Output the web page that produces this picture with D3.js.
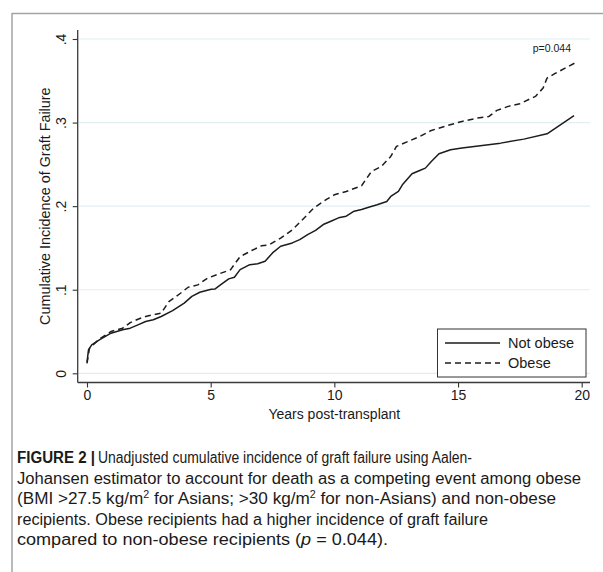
<!DOCTYPE html>
<html>
<head>
<meta charset="utf-8">
<script src="https://cdn.jsdelivr.net/npm/d3@7"></script>
<style>
  html, body { margin: 0; padding: 0; background: #fff; }
  svg { display: block; }
  text { font-family: "Liberation Sans", Arial, Helvetica, sans-serif; fill: #1a1a1a; }
</style>
</head>
<body>
<svg id="chart" width="603" height="572"></svg>
<script>
// Cumulative incidence of graft failure (Aalen-Johansen), by obesity status
const notObeseYears = [0, 0.06, 0.19, 0.5, 0.97, 1.44, 1.75, 2.06, 2.37, 2.68, 3.0, 3.46, 3.93, 4.24, 4.56, 5.02, 5.18, 5.41, 5.73, 5.96, 6.19, 6.58, 6.9, 7.2, 7.5, 7.83, 8.3, 8.6, 8.92, 9.24, 9.55, 9.86, 10.17, 10.48, 10.8, 11.1, 11.42, 11.73, 12.12, 12.28, 12.59, 12.75, 13.14, 13.45, 13.68, 13.92, 14.23, 14.7, 15.16, 16.72, 17.66, 18.6, 19.69];
const notObeseCI    = [0.013, 0.028, 0.034, 0.040, 0.048, 0.052, 0.054, 0.058, 0.062, 0.064, 0.068, 0.075, 0.084, 0.092, 0.097, 0.1006, 0.101, 0.106, 0.113, 0.115, 0.124, 0.130, 0.131, 0.134, 0.144, 0.152, 0.156, 0.160, 0.166, 0.171, 0.178, 0.182, 0.186, 0.188, 0.194, 0.196, 0.199, 0.2016, 0.2056, 0.2116, 0.2176, 0.2255, 0.2387, 0.2427, 0.2455, 0.2535, 0.2627, 0.2675, 0.2695, 0.2754, 0.2802, 0.2866, 0.3082];

const obeseYears = [0, 0.1, 0.5, 0.97, 1.44, 1.75, 2.06, 2.37, 3.0, 3.31, 3.78, 4.09, 4.48, 4.87, 5.34, 5.8, 6.19, 6.66, 7.05, 7.36, 7.83, 8.3, 8.77, 9.16, 9.7, 10.0, 10.48, 11.1, 11.5, 11.9, 12.28, 12.51, 12.98, 13.45, 13.92, 14.54, 15.16, 15.79, 16.25, 16.57, 17.03, 17.5, 18.13, 18.44, 18.6, 18.91, 19.77];
const obeseCI    = [0.012, 0.030, 0.041, 0.050, 0.054, 0.0607, 0.0647, 0.068, 0.072, 0.0858, 0.0958, 0.103, 0.1058, 0.1138, 0.119, 0.1238, 0.1397, 0.1469, 0.1525, 0.1537, 0.1617, 0.1717, 0.1856, 0.1976, 0.2084, 0.2136, 0.2176, 0.2244, 0.2415, 0.2475, 0.2595, 0.2715, 0.2774, 0.2834, 0.2906, 0.2962, 0.3014, 0.3054, 0.3074, 0.3146, 0.3194, 0.3226, 0.3313, 0.3413, 0.3533, 0.3585, 0.372];

const xTicks = [0, 5, 10, 15, 20];
const yTicks = [0, 0.1, 0.2, 0.3, 0.4];
const yTickLabels = ["0", ".1", ".2", ".3", ".4"];

const seriesNames = ["Not obese", "Obese"];
const pValueLabel = "p=0.044";

const svg = d3.select("#chart");

// page frame (top and left rules)
svg.append("line").attr("x1", 12).attr("x2", 603).attr("y1", 13.5).attr("y2", 13.5)
  .attr("stroke", "#a3a3a3").attr("stroke-width", 1.5);
svg.append("line").attr("x1", 12).attr("x2", 12).attr("y1", 13).attr("y2", 572)
  .attr("stroke", "#a3a3a3").attr("stroke-width", 1.5);

// plot region
const region = { left: 77.7, right: 590, top: 30, bottom: 382.5 };
const x = d3.scaleLinear().domain([0, 20]).range([87, 581.7]);
const y = d3.scaleLinear().domain([0, 0.4]).range([373.3, 39]);
const fontStack = '"Liberation Sans", Arial, sans-serif';

// horizontal gridlines
svg.append("g").selectAll("line").data(yTicks).join("line")
  .attr("x1", region.left + 1).attr("x2", region.right)
  .attr("y1", d => y(d)).attr("y2", d => y(d))
  .attr("stroke", "#e2eff2").attr("stroke-width", 1.2);

// x axis
const xAxis = svg.append("g").attr("transform", `translate(0,${region.bottom})`)
  .call(d3.axisBottom(x).tickValues(xTicks).tickSize(5).tickSizeOuter(0).tickPadding(3));
xAxis.select(".domain").remove();
xAxis.selectAll(".tick line").attr("stroke", "#333").attr("stroke-width", 1.1);
xAxis.selectAll(".tick text").attr("font-size", 14).attr("fill", "#1a1a1a")
  .style("font-family", fontStack);
svg.append("line").attr("x1", region.left).attr("x2", region.right)
  .attr("y1", region.bottom).attr("y2", region.bottom)
  .attr("stroke", "#3a3a3a").attr("stroke-width", 1.3);

// y axis, labels rotated
const yAxis = svg.append("g").attr("transform", `translate(${region.left},0)`)
  .call(d3.axisLeft(y).tickValues(yTicks).tickSize(5).tickSizeOuter(0)
    .tickFormat((d, i) => yTickLabels[i]));
yAxis.select(".domain").remove();
yAxis.selectAll(".tick line").attr("stroke", "#333").attr("stroke-width", 1.1);
yAxis.selectAll(".tick text")
  .attr("x", null).attr("dy", "0.35em")
  .attr("text-anchor", "middle")
  .attr("transform", "translate(-16.7,0) rotate(-90)")
  .attr("font-size", 14).attr("fill", "#1a1a1a")
  .style("font-family", fontStack);
svg.append("line").attr("x1", region.left).attr("x2", region.left)
  .attr("y1", region.top).attr("y2", region.bottom)
  .attr("stroke", "#3a3a3a").attr("stroke-width", 1.3);

// axis titles
svg.append("text").attr("x", (x(0) + x(20)) / 2).attr("y", 419)
  .attr("text-anchor", "middle").attr("font-size", 14)
  .text("Years post-transplant");
svg.append("text")
  .attr("transform", `translate(44.5,${(y(0) + y(0.4)) / 2}) rotate(-90)`)
  .attr("dy", "0.35em").attr("text-anchor", "middle").attr("font-size", 14.4)
  .text("Cumulative Incidence of Graft Failure");

// curves
const line = d3.line().x(d => x(d[0])).y(d => y(d[1]));
const notObese = d3.zip(notObeseYears, notObeseCI);
const obese = d3.zip(obeseYears, obeseCI);

svg.append("path").datum(notObese).attr("d", line)
  .attr("fill", "none").attr("stroke", "#1c1c1c").attr("stroke-width", 1.5)
  .attr("stroke-linejoin", "round");
svg.append("path").datum(obese).attr("d", line)
  .attr("fill", "none").attr("stroke", "#1c1c1c").attr("stroke-width", 1.5)
  .attr("stroke-dasharray", "6,4").attr("stroke-linejoin", "round");

// p-value annotation
svg.append("text").attr("x", 571).attr("y", 51.5).attr("text-anchor", "end")
  .attr("font-size", 10.5).attr("fill", "#333").text(pValueLabel);

// legend
const legend = svg.append("g");
legend.append("rect").attr("x", 437.5).attr("y", 329).attr("width", 148.5).attr("height", 48)
  .attr("fill", "#fff").attr("stroke", "#333").attr("stroke-width", 1);
const dashes = [null, "6,4"];
seriesNames.forEach((name, i) => {
  const ly = 343 + i * 20;
  legend.append("line").attr("x1", 445).attr("x2", 500).attr("y1", ly).attr("y2", ly)
    .attr("stroke", "#1c1c1c").attr("stroke-width", 1.4)
    .attr("stroke-dasharray", dashes[i]);
  legend.append("text").attr("x", 508).attr("y", ly).attr("dy", "0.35em")
    .attr("font-size", 14.5).text(name);
});

// figure caption: each run has a start x and an end x on its line
const caption = svg.append("g").attr("font-size", 16);
const capLines = [
  [{ x0: 17, x1: 95, parts: [["FIGURE 2 |", "bold"]] },
   { x0: 98, x1: 472, parts: [["Unadjusted cumulative incidence of graft failure using Aalen-", null]] }],
  [{ x0: 17, x1: 581, parts: [["Johansen estimator to account for death as a competing event among obese", null]] }],
  [{ x0: 17, x1: 556, parts: [["(BMI >27.5 kg/m", null], ["2", "sup"], [" for Asians; >30 kg/m", null], ["2", "sup"], [" for non-Asians) and non-obese", null]] }],
  [{ x0: 17, x1: 488, parts: [["recipients. Obese recipients had a higher incidence of graft failure", null]] }],
  [{ x0: 17, x1: 388, parts: [["compared to non-obese recipients (", null], ["p", "italic"], [" = 0.044).", null]] }]
];
capLines.forEach((runs, i) => {
  runs.forEach(run => {
    const t = caption.append("text").attr("x", run.x0).attr("y", 463 + i * 20.5)
      .attr("textLength", run.x1 - run.x0).attr("lengthAdjust", "spacingAndGlyphs");
    let raised = false;
    run.parts.forEach(([s, kind]) => {
      const ts = t.append("tspan").text(s);
      if (kind === "bold") ts.attr("font-weight", "bold");
      if (kind === "italic") ts.attr("font-style", "italic");
      if (kind === "sup") { ts.attr("font-size", 10).attr("dy", -6); raised = true; }
      else if (raised) { ts.attr("dy", 6); raised = false; }
    });
  });
});
</script>
</body>
</html>
